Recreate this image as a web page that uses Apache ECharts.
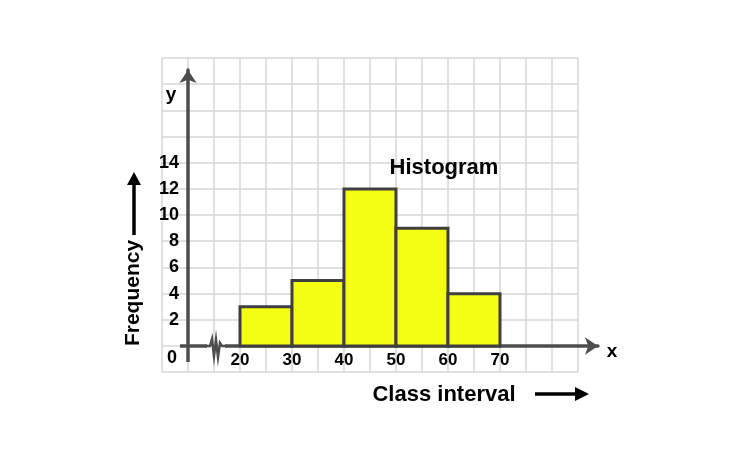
<!DOCTYPE html>
<html>
<head>
<meta charset="utf-8">
<script src="https://cdn.jsdelivr.net/npm/echarts@6/dist/echarts.min.js"></script>
<style>
  html, body { margin: 0; padding: 0; background: #fff; }
  #main { width: 750px; height: 472px; }
</style>
</head>
<body>
<div id="main"></div>
<script>
// class intervals and frequencies
const classStart = [20, 30, 40, 50, 60]
const classEnd = [30, 40, 50, 60, 70]
const frequency = [3, 5, 12, 9, 4]
const xTickLabels = [20, 30, 40, 50, 60, 70]
const yTickLabels = [2, 4, 6, 8, 10, 12, 14]

const FONT = '"Liberation Sans", Arial, Helvetica, sans-serif'
const AXIS_COLOR = '#4d4d4d'
const GRID_COLOR = '#d6d6d6'

const chart = echarts.init(document.getElementById('main'))

const barData = classStart.map((s, i) => [s, classEnd[i], frequency[i]])

// 箭头
const arrowLine = (x1, y1, x2, y2, head) => ({
  type: 'group',
  z: 100,
  children: [
    { type: 'line', z: 100, shape: { x1, y1, x2, y2 }, style: { stroke: '#000', lineWidth: 3.5 } },
    { type: 'polygon', z: 100, shape: { points: head }, style: { fill: '#000' } }
  ]
})

const label = (text, x, y, size, rotation) => ({
  type: 'text',
  z: 100,
  x, y,
  rotation: rotation || 0,
  style: {
    text,
    font: 'bold ' + size + 'px ' + FONT,
    fill: '#000',
    align: 'center',
    verticalAlign: 'middle'
  }
})

chart.setOption({
  animation: false,
  grid: [
    { left: 162, top: 58, width: 416, height: 314, outerBoundsMode: 'none' },
    { left: 188, top: 70, width: 410, height: 276, outerBoundsMode: 'none' }
  ],
  xAxis: [
    {
      gridIndex: 0, type: 'value', min: 5, max: 85, interval: 5,
      axisLine: { show: false }, axisTick: { show: false }, axisLabel: { show: false },
      splitLine: { show: true, lineStyle: { color: GRID_COLOR, width: 1.5 } }
    },
    {
      gridIndex: 1, type: 'value', min: 10, max: 88.85, interval: 10,
      axisLine: { show: true, symbol: ['none', 'arrow'], symbolSize: [13, 13], lineStyle: { color: AXIS_COLOR, width: 3.5 } },
      axisTick: { show: false },
      splitLine: { show: false },
      axisLabel: {
        margin: 6,
        color: '#000',
        fontSize: 17,
        fontWeight: 'bold',
        fontFamily: FONT,
        showMaxLabel: false,
        formatter: v => xTickLabels.includes(v) ? String(v) : ''
      }
    }
  ],
  yAxis: [
    {
      gridIndex: 0, type: 'value', min: -2, max: 22, interval: 2,
      axisLine: { show: false }, axisTick: { show: false }, axisLabel: { show: false },
      splitLine: { show: true, lineStyle: { color: GRID_COLOR, width: 1.5 } }
    },
    {
      gridIndex: 1, type: 'value', min: 0, max: 21.1, interval: 2,
      axisLine: { show: true, symbol: ['none', 'arrow'], symbolSize: [13, 13], lineStyle: { color: AXIS_COLOR, width: 3.5 } },
      axisTick: { show: false },
      splitLine: { show: false },
      axisLabel: {
        margin: 9,
        color: '#000',
        fontSize: 18,
        fontWeight: 'bold',
        fontFamily: FONT,
        showMaxLabel: false,
        formatter: v => yTickLabels.includes(v) ? String(v) : ''
      }
    }
  ],
  series: [{
    type: 'custom',
    xAxisIndex: 1,
    yAxisIndex: 1,
    data: barData,
    encode: { x: [0, 1], y: 2 },
    renderItem: (params, api) => {
      const p0 = api.coord([api.value(0), 0])
      const p1 = api.coord([api.value(1), api.value(2)])
      return {
        type: 'rect',
        shape: { x: p0[0], y: p1[1], width: p1[0] - p0[0], height: p0[1] - p1[1] },
        style: { fill: '#f5ff14', stroke: '#3f3f3f', lineWidth: 3 }
      }
    },
    z: 1
  }],
  graphic: [
    // axis stubs beyond origin
    { type: 'line', z: 100, shape: { x1: 188, y1: 346, x2: 188, y2: 362 }, style: { stroke: AXIS_COLOR, lineWidth: 3.5 } },
    { type: 'line', z: 100, shape: { x1: 180, y1: 346, x2: 188, y2: 346 }, style: { stroke: AXIS_COLOR, lineWidth: 3.5 } },
    // 断轴符号
    { type: 'rect', z: 100, shape: { x: 207, y: 343, width: 18, height: 6 }, style: { fill: '#fff' } },
    {
      type: 'polyline',
      z: 101,
      shape: { points: [[205, 346], [210, 346], [212, 339], [214, 356], [216, 340], [218, 357], [220, 343], [222, 346], [227, 346]] },
      style: { stroke: AXIS_COLOR, lineWidth: 2.5, fill: null }
    },
    label('0', 172, 358, 18),
    label('y', 171, 95, 19),
    label('x', 612, 352, 19),
    label('Histogram', 444, 168, 22),
    label('Class interval', 444, 395, 22),
    label('Frequency', 133, 293, 21, Math.PI / 2),
    arrowLine(535, 394, 576, 394, [[575, 387], [589, 394], [575, 401]]),
    arrowLine(134, 235, 134, 184, [[127, 185], [134, 172], [141, 185]])
  ]
})
</script>
</body>
</html>
